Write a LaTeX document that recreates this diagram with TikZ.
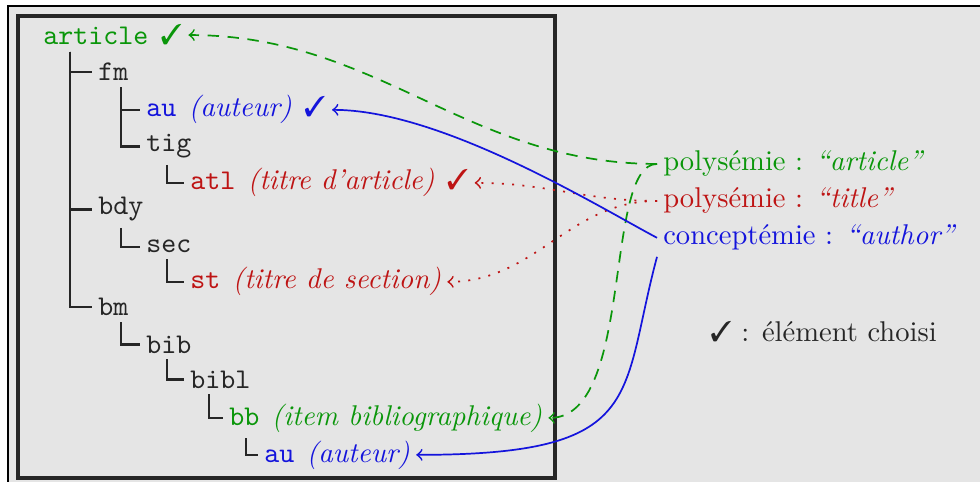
\documentclass[tikz,border=0pt]{standalone}
\usepackage{amssymb}
\usepackage{pifont}
\usepackage{fontspec}
\definecolor{vert}{RGB}{10,150,10}
\definecolor{rouge}{RGB}{190,20,20}
\definecolor{bleu}{RGB}{20,20,220}
\definecolor{fond}{RGB}{229,229,229}
\newcommand{\desc}[1]{\hspace{4.3pt}\textit{#1}}
\newcommand{\choisi}{\hspace{4.3pt}\ding{51}}

\begin{document}
\begin{tikzpicture}[x=0.35pt,y=-0.35pt,
  elt/.style={anchor=base west,inner sep=2pt,text=black!85},
  branch/.style={thick,black!85},
  lien/.style={semithick,->},
  tirets/.style={dash pattern=on 4pt off 3pt},
  points/.style={dash pattern=on 0.7pt off 2.9pt}]
\useasboundingbox (0,0) rectangle (980,482);

% frames
\fill[white] (0,0) rectangle (980,482);
\fill[fond] (8,6) rectangle (990,490);
\draw[line width=0.7pt] (8,490) |- (990,6);
\draw[line width=1.1pt,black!85] (18,16) rectangle (555,478);

% tree
\node[elt,text=vert] (article) at (37,45) {\texttt{article}\choisi};
\node[elt] (fm) at (92,81) {\texttt{fm}};
\node[elt,text=bleu] (au) at (140,117) {\texttt{au}\desc{(auteur)}\choisi};
\node[elt] (tig) at (140,152) {\texttt{tig}};
\node[elt,text=rouge] (atl) at (184,190) {\texttt{atl}\desc{(titre d'article)}\choisi};
\node[elt] (bdy) at (92,215) {\texttt{bdy}};
\node[elt] (sec) at (140,253) {\texttt{sec}};
\node[elt,text=rouge] (st) at (184,289) {\texttt{st}\desc{(titre de section)}};
\node[elt] (bm) at (92,316) {\texttt{bm}};
\node[elt] (bib) at (140,353) {\texttt{bib}};
\node[elt] (bibl) at (184,388) {\texttt{bibl}};
\node[elt,text=vert] (bb) at (223,425) {\texttt{bb}\desc{(item bibliographique)}};
\node[elt,text=bleu] (au2) at (258,462) {\texttt{au}\desc{(auteur)}};

% branches
\draw[branch] (article.south west) ++(33,0) |- (fm.west);
\draw[branch] (article.south west) ++(33,0) |- (bdy.west);
\draw[branch] (article.south west) ++(33,0) |- (bm.west);
\draw[branch] (fm.south west) ++(29,0) |- (au.west);
\draw[branch] (fm.south west) ++(29,0) |- (tig.west);
\draw[branch] (tig.south west) ++(27,0) |- (atl.west);
\draw[branch] (bdy.south west) ++(29,0) |- (sec.west);
\draw[branch] (sec.south west) ++(27,0) |- (st.west);
\draw[branch] (bm.south west) ++(29,0) |- (bib.west);
\draw[branch] (bib.south west) ++(27,0) |- (bibl.west);
\draw[branch] (bibl.south west) ++(25,0) |- (bb.west);
\draw[branch] (bb.south west) ++(23,0) |- (au2.west);

% labels
\node[elt,text=vert] (pa) at (657,171) {polysémie : \textit{“article”}};
\node[elt,text=rouge] (pt) at (657,208) {polysémie : \textit{“title”}};
\node[elt,text=bleu] (pc) at (657,245) {conceptémie : \textit{“author”}};
\node[elt] (choix) at (704,341) {\ding{51} : élément choisi};

% links
\draw[lien,vert,tirets] (pa.west) to[out=180,in=0] (article.east);
\draw[lien,vert,tirets] (pa.west) to[out=180,in=0,out looseness=0.5,in looseness=0.8] (bb.east);
\draw[lien,rouge,points] (pt.west) to[out=180,in=0] (atl.east);
\draw[lien,rouge,points] (pt.west) to[out=180,in=0] (st.east);
\draw[lien,bleu] (pc.west) to[out=152,in=0,out looseness=0.5,in looseness=0.8] (au.east);
\draw[lien,bleu] (pc.south west) to[out=-105,in=0,out looseness=1.2,in looseness=1.9] (au2.east);
\end{tikzpicture}
\end{document}
